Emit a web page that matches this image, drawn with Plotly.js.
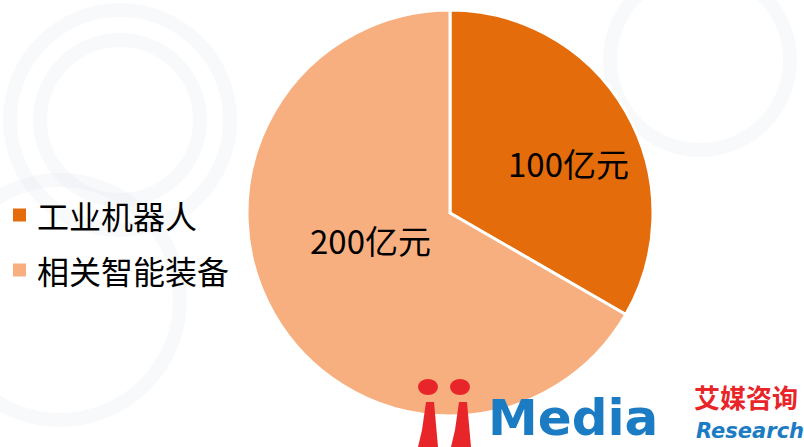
<!DOCTYPE html>
<html><head><meta charset="utf-8">
<script src="https://cdn.plot.ly/plotly-3.0.1.min.js"></script>
<style>html,body{margin:0;padding:0;background:#fff}#chart{width:804px;height:447px}</style>
</head><body><div id="chart"></div>
<script>
const categories = ['工业机器人', '相关智能装备'];
const values = [100, 200];
const unit = '亿元';
const colors = ['#E46C0A', '#F8AF80'];

const W = 804, H = 447;
const px = x => x / W, py = y => 1 - y / H;

const trace = {
  type: 'pie', labels: categories, values: values, sort: false,
  direction: 'clockwise', rotation: 0,
  marker: {colors: colors, line: {color: '#ffffff', width: 3}},
  textinfo: 'none', hoverinfo: 'none', showlegend: false,
  domain: {x: [px(247), px(653)], y: [py(416), py(10)]}
};

const font = 'Noto Sans CJK SC, Noto Sans, sans-serif';
const shapes = [];
const annotations = [];

// faint background rings
[[120,120,110],[120,120,80],[60,300,120],[700,60,90]].forEach(c => {
  shapes.push({type:'circle', xref:'paper', yref:'paper', layer:'below',
    x0:px(c[0]-c[2]), x1:px(c[0]+c[2]), y0:py(c[1]+c[2]), y1:py(c[1]-c[2]),
    line:{color:'rgba(215,222,235,0.18)', width:14}});
});

// manual legend
const legY = [215, 270];
categories.forEach((c, i) => {
  shapes.push({type:'rect', xref:'paper', yref:'paper', layer:'above',
    x0:px(13), x1:px(26), y0:py(legY[i]+6.5), y1:py(legY[i]-6.5),
    fillcolor: colors[i], line:{width:0}});
  annotations.push({xref:'paper', yref:'paper', x:px(35), y:py(legY[i]), xanchor:'left', yanchor:'middle',
    text: c, showarrow:false, font:{family:font, size:32, color:'#000'}});
});

// slice labels
const labPos = [[568,163],[370,240]];
values.forEach((v, i) => {
  annotations.push({xref:'paper', yref:'paper', x:px(labPos[i][0]), y:py(labPos[i][1]), xanchor:'center', yanchor:'middle',
    text: v + unit, showarrow:false, font:{family:font, size:33, color:'#000'}});
});

// logo
[[428,387],[460,387]].forEach(c => {
  shapes.push({type:'circle', xref:'paper', yref:'paper', layer:'above',
    x0:px(c[0]-10), x1:px(c[0]+10), y0:py(c[1]+8), y1:py(c[1]-8),
    fillcolor:'#E8262A', line:{width:0}});
});
[[418,432],[451,465]].forEach(s => {
  const a=s[0];
  const path = `M ${px(a+8)} ${py(402)} L ${px(a+16)} ${py(402)} L ${px(a+20)} ${py(447)} L ${px(a)} ${py(447)} L ${px(a+4)} ${py(430)} Z`;
  shapes.push({type:'path', xref:'paper', yref:'paper', layer:'above', path: path,
    fillcolor:'#E8262A', line:{width:0}});
});
annotations.push({xref:'paper', yref:'paper', x:px(486), y:py(449), xanchor:'left', yanchor:'bottom',
  text:'<b>Media</b>', showarrow:false, font:{family:'DejaVu Sans, sans-serif', size:50, color:'#1B7CC4'}});
annotations.push({xref:'paper', yref:'paper', x:px(692), y:py(396), xanchor:'left', yanchor:'middle',
  text:'<b>艾媒咨询</b>', showarrow:false, font:{family:font, size:26, color:'#E8262A'}});
annotations.push({xref:'paper', yref:'paper', x:px(694), y:py(431), xanchor:'left', yanchor:'middle',
  text:'<b><i>Research</i></b>', showarrow:false, font:{family:'DejaVu Sans, sans-serif', size:21, color:'#1B7CC4'}});

const layout = {
  width: W, height: H, margin:{l:0,r:0,t:0,b:0},
  paper_bgcolor:'#ffffff', plot_bgcolor:'#ffffff',
  showlegend:false, shapes: shapes, annotations: annotations
};
Plotly.newPlot('chart', [trace], layout, {displayModeBar:false, staticPlot:true});
</script></body></html>
